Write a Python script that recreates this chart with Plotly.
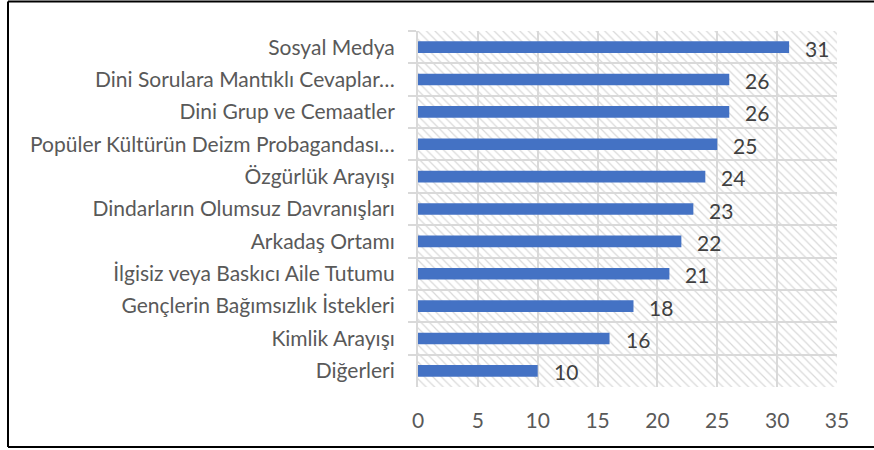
import plotly.graph_objects as go

categories = [
    "Sosyal Medya",
    "Dini Sorulara Mantıklı Cevaplar…",
    "Dini Grup ve Cemaatler",
    "Popüler Kültürün Deizm Probagandası…",
    "Özgürlük Arayışı",
    "Dindarların Olumsuz Davranışları",
    "Arkadaş Ortamı",
    "İlgisiz veya Baskıcı Aile Tutumu",
    "Gençlerin Bağımsızlık İstekleri",
    "Kimlik Arayışı",
    "Diğerleri",
]
values = [31, 26, 26, 25, 24, 23, 22, 21, 18, 16, 10]
x_ticks = [0, 5, 10, 15, 20, 25, 30, 35]
x_max = 35

FONT = "Lato"
FS = 21
fig = go.Figure()

# hatched plot-area background (decorative)
fig.add_trace(go.Bar(
    y=categories, x=[x_max] * len(categories), orientation="h", width=1,
    marker=dict(color="rgba(0,0,0,0)", line=dict(width=0),
                pattern=dict(shape="\\", fillmode="replace", fgcolor="#d9d9d9",
                             bgcolor="rgba(0,0,0,0)", size=6, solidity=0.2)),
    hoverinfo="skip", showlegend=False,
))

fig.add_trace(go.Bar(
    y=categories, x=values, orientation="h", width=0.36,
    marker=dict(color="#4472C4", line=dict(width=0)),
    showlegend=False,
))

for c, v in zip(categories, values):
    fig.add_annotation(x=v, y=c, text=str(v), showarrow=False, xanchor="left",
                       xshift=14, yshift=-1, font=dict(family=FONT, size=FS, color="#404040"))

PL, PR, PT, PB = 418, 837, 31, 387
W, H = 874, 450
fig.update_layout(
    width=W, height=H,
    margin=dict(l=PL, r=W - PR, t=PT, b=H - PB, autoexpand=False),
    paper_bgcolor="white", plot_bgcolor="white",
    barmode="overlay",
    font=dict(family=FONT, size=FS, color="#595959"),
    xaxis=dict(range=[0, x_max], tickvals=x_ticks, showgrid=True, gridcolor="#d9d9d9",
               gridwidth=2, zeroline=False, showline=False, ticks="",
               ticklabelstandoff=19, fixedrange=True, automargin=False),
    yaxis=dict(categoryorder="array", categoryarray=categories, autorange="reversed",
               tickson="boundaries", showgrid=True, gridcolor="#d9d9d9", gridwidth=2,
               ticks="outside", ticklen=8, tickcolor="#d9d9d9", tickwidth=2,
               showline=True, linecolor="#d9d9d9", linewidth=2,
               ticklabelstandoff=17, fixedrange=True, automargin=False),
)
# outer chart border (left, top, bottom; right edge lies beyond the image)
pw, ph = PR - PL, PB - PT
bx0 = (8 - PL) / pw
bx1 = (W - PL) / pw
by0 = -(447 - PB) / ph
by1 = 1 + (PT - 1.5) / ph
for x0, y0, x1, y1 in [(bx0, by0, bx0, by1), (bx0, by1, bx1, by1), (bx0, by0, bx1, by0)]:
    fig.add_shape(type="line", xref="paper", yref="paper", x0=x0, y0=y0, x1=x1, y1=y1,
                  line=dict(color="black", width=2), layer="above")

fig.write_html(
    "out.html", config={"displayModeBar": False},
    post_script="document.body.style.margin='0';"
                "document.body.style.overflow='hidden';"
                "document.documentElement.style.overflow='hidden';",
)
